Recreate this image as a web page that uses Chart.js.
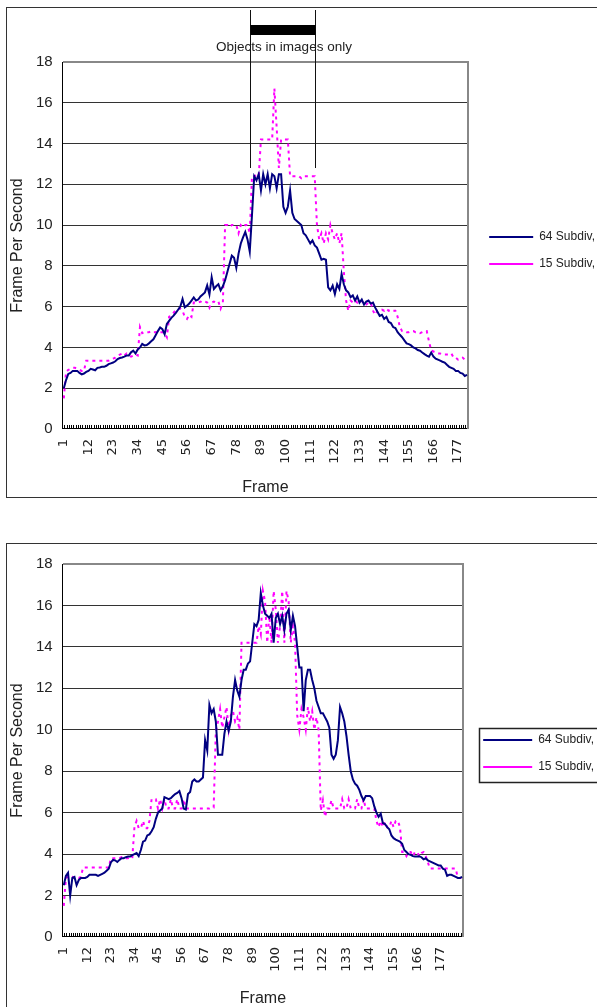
<!DOCTYPE html>
<html>
<head>
<meta charset="utf-8">
<script src="https://cdn.jsdelivr.net/npm/chart.js@4.4.1/dist/chart.umd.min.js"></script>
<style>
  html, body { margin: 0; padding: 0; background: #fff; overflow: hidden; width: 597px; height: 1007px; }
  .box { position: absolute; left: 6px; border: 1px solid #333; background: #fff; }
  #box1 { top: 7px; width: 598px; height: 489px; }
  #box2 { top: 543px; width: 597px; height: 470px; }
  canvas { display: block; }
</style>
</head>
<body>
<div class="box" id="box1"><canvas id="c1" width="598" height="489"></canvas></div>
<div class="box" id="box2"><canvas id="c2" width="597" height="470"></canvas></div>
<script>
// frame numbers on the category axis
const framesTop = Array.from({ length: 181 }, (_, i) => String(i + 1));
const framesBottom = Array.from({ length: 187 }, (_, i) => String(i + 1));
const seriesNames = ['64 Subdiv,', '15 Subdiv,'];
const labelEvery = 11;
const yMin = 0, yMax = 18, yStep = 2;

// upper chart
const top64 = [
  2.0, 2.4, 2.7, 2.75, 2.85, 2.85, 2.85, 2.75, 2.68, 2.72,
  2.8, 2.85, 2.95, 2.92, 2.88, 3.0, 3.02, 3.05, 3.05, 3.1,
  3.18, 3.22, 3.26, 3.32, 3.43, 3.48, 3.51, 3.55, 3.6, 3.6,
  3.76, 3.84, 3.7, 3.9, 4.0, 4.17, 4.1, 4.12, 4.2, 4.3,
  4.4, 4.6, 4.8, 4.98, 4.9, 4.65, 5.15, 5.3, 5.45, 5.56,
  5.7, 5.85, 6.0, 6.38, 5.97, 6.05, 6.15, 6.3, 6.45, 6.3,
  6.35, 6.5, 6.6, 6.7, 7.04, 6.6, 7.44, 6.87, 7.0, 7.1,
  6.8, 7.0, 7.3, 7.7, 8.1, 8.5, 8.4, 7.9, 8.6, 9.1,
  9.4, 9.66, 9.3, 8.7, 10.5, 12.4, 12.2, 12.5, 11.7, 12.5,
  12.0, 12.5, 11.8, 12.5, 12.4, 11.8, 12.5, 12.5, 10.9, 10.6,
  10.9, 11.7, 10.6, 10.3, 10.2, 10.1, 10.0, 9.6, 9.5, 9.3,
  9.1, 9.25, 9.0, 8.9, 8.6, 8.3, 8.35, 8.3, 6.95, 6.8,
  7.03, 6.62, 7.1, 6.87, 7.6, 7.1, 6.8, 6.7, 6.46, 6.55,
  6.3, 6.5, 6.2, 6.35, 6.1, 6.25, 6.3, 6.15, 6.2, 5.95,
  5.75, 5.55, 5.6, 5.4, 5.5, 5.25, 5.2, 5.0, 4.95, 4.75,
  4.62, 4.5, 4.35, 4.2, 4.16, 4.1, 4.0, 3.95, 3.87, 3.84,
  3.75, 3.67, 3.6, 3.55, 3.75, 3.55, 3.45, 3.4, 3.35, 3.3,
  3.26, 3.15, 3.05, 3.0, 2.95, 2.85, 2.85, 2.75, 2.72, 2.6,
  2.65
];
const top15 = [
  1.5, 2.8, 2.9, 2.95, 3.0, 3.0, 2.95, 2.9, 2.85, 2.85,
  3.35, 3.35, 3.35, 3.35, 3.35, 3.35, 3.35, 3.35, 3.35, 3.35,
  3.35, 3.4, 3.45, 3.5, 3.6, 3.65, 3.7, 3.6, 3.7, 3.6,
  3.55, 3.6, 3.65, 3.6, 5.0, 4.7, 4.75, 4.75, 4.75, 4.8,
  4.75, 4.75, 4.8, 4.75, 4.75, 4.7, 4.5, 5.5, 5.6, 5.7,
  5.85, 5.9, 5.9, 5.8, 5.5, 5.4, 5.6, 5.5, 6.2, 6.2,
  6.2, 6.25, 6.2, 6.25, 6.2, 5.95, 6.2, 6.25, 6.2, 6.25,
  5.9, 6.2, 10.0, 10.0, 9.9, 10.0, 10.0, 10.0, 9.6, 10.0,
  9.9, 10.0, 10.0, 9.6, 12.4, 12.4, 12.45, 12.4, 14.2, 14.2,
  14.2, 14.2, 14.2, 14.2, 16.7, 14.8, 12.8, 14.2, 14.2, 14.2,
  14.2, 12.4, 12.4, 12.4, 12.4, 12.4, 12.3, 12.4, 12.4, 12.4,
  12.4, 12.4, 12.4, 10.0, 9.3, 9.6, 9.1, 9.6, 9.3, 10.0,
  9.6, 9.3, 9.6, 9.1, 9.6, 7.7, 6.3, 5.8, 6.3, 6.2,
  6.3, 6.2, 6.3, 6.3, 6.1, 6.1, 6.2, 6.2, 5.8, 5.6,
  5.8, 5.8, 5.85, 5.8, 5.9, 5.8, 5.85, 5.8, 5.8, 5.5,
  5.0, 4.8, 4.8, 4.75, 4.75, 4.8, 4.8, 4.75, 4.75, 4.7,
  4.75, 4.8, 4.8, 4.3, 3.85, 3.8, 3.75, 3.7, 3.7, 3.65,
  3.65, 3.65, 3.65, 3.7, 3.5, 3.5, 3.4, 3.45, 3.5, 3.4,
  3.4
];
// "Objects in images only" spans these frames
const objectsFrom = '84', objectsTo = '113', objectsLineBottom = 12.8;
const objectsText = 'Objects in images only';

// lower chart
const bottom64 = [
  2.5, 2.95, 3.1, 2.0, 2.85, 2.9, 2.5, 2.75, 2.85, 2.85,
  2.85, 2.9, 3.0, 3.0, 3.0, 3.0, 2.95, 3.0, 3.05, 3.1,
  3.2, 3.3, 3.6, 3.72, 3.7, 3.62, 3.72, 3.8, 3.8, 3.85,
  3.88, 3.88, 3.95, 4.0, 4.05, 3.9, 4.2, 4.6, 4.65, 4.9,
  4.95, 5.1, 5.3, 5.7, 6.0, 6.1, 6.2, 6.75, 6.7, 6.65,
  6.7, 6.8, 6.9, 6.95, 7.04, 6.7, 6.2, 6.15, 6.9, 7.0,
  7.5, 7.6, 7.5, 7.5, 7.6, 7.7, 9.5, 9.0, 11.2, 10.8,
  11.0, 10.4, 8.8, 8.8, 8.8, 9.8, 10.4, 9.95, 10.4, 11.6,
  12.4, 11.9, 11.6, 12.4, 12.9, 12.9, 13.2, 13.3, 14.2, 15.1,
  15.0, 15.3, 16.6, 16.0, 15.6, 15.5, 15.4, 15.6, 14.2, 15.4,
  15.6, 15.1, 15.5, 14.8, 15.6, 15.8, 14.8, 15.5, 15.0, 14.0,
  13.0, 13.0, 10.9, 12.4, 12.9, 12.9, 12.4, 12.0, 11.4, 11.1,
  10.8, 10.8, 10.6, 10.4, 10.1, 8.8, 8.6, 8.8, 9.5, 11.1,
  10.8, 10.4, 9.7, 8.8, 8.0, 7.6, 7.4, 7.3, 7.1, 6.8,
  6.6, 6.8, 6.8, 6.8, 6.7, 6.3, 6.0, 5.8, 5.95, 5.5,
  5.45, 5.3, 5.2, 4.9, 4.77, 4.7, 4.65, 4.6, 4.5, 4.2,
  4.1, 4.0, 3.96, 3.9, 3.88, 3.88, 3.9, 3.85, 3.75, 3.8,
  3.7, 3.65, 3.6, 3.55, 3.5, 3.45, 3.45, 3.3, 3.25, 2.95,
  3.0, 3.0, 2.95, 2.9, 2.85, 2.85, 2.9
];
const bottom15 = [
  1.5, 2.85, 2.9, 2.85, 2.9, 2.85, 2.9, 2.85, 2.9, 3.35,
  3.35, 3.35, 3.35, 3.35, 3.35, 3.35, 3.35, 3.35, 3.35, 3.35,
  3.35, 3.35, 3.8, 3.8, 3.8, 3.8, 3.8, 3.85, 3.8, 3.8,
  3.8, 3.85, 3.8, 5.3, 5.6, 5.25, 5.25, 5.6, 5.25, 5.25,
  5.6, 6.65, 6.65, 6.65, 6.2, 6.65, 6.2, 6.65, 6.2, 6.2,
  6.65, 6.2, 6.2, 6.65, 6.2, 6.2, 6.65, 6.2, 6.2, 6.2,
  6.2, 6.2, 6.2, 6.2, 6.2, 6.2, 6.2, 6.2, 6.2, 6.25,
  6.25, 9.9, 10.4, 11.0, 10.1, 10.6, 11.1, 10.0, 10.7, 10.9,
  10.4, 10.6, 10.0, 14.2, 14.2, 14.2, 14.2, 14.2, 14.2, 14.2,
  14.2, 15.0, 14.6, 16.7, 16.2, 14.2, 15.5, 14.2, 16.7, 15.8,
  14.2, 15.0, 16.7, 14.2, 16.7, 16.2, 14.2, 15.0, 14.2, 10.7,
  10.0, 11.0, 10.6, 10.0, 11.1, 10.4, 10.9, 10.0, 10.6, 10.0,
  6.1, 6.6, 5.8, 6.2, 6.2, 6.6, 6.2, 6.2, 6.2, 6.2,
  6.65, 6.2, 6.2, 6.65, 6.2, 6.2, 6.2, 6.65, 6.2, 6.2,
  6.65, 6.2, 6.2, 6.2, 6.2, 6.2, 5.6, 5.3, 5.6, 5.3,
  5.55, 5.3, 5.3, 5.6, 5.3, 5.6, 5.6, 5.3, 4.1, 4.1,
  3.9, 4.1, 4.1, 3.9, 4.1, 4.1, 3.9, 4.05, 4.1, 3.9,
  3.6, 3.3, 3.3, 3.3, 3.3, 3.3, 3.3, 3.3, 3.3, 3.3,
  3.3, 3.3, 3.3, 3.3, 2.85, 2.85, 2.85
];

const sans = "'Liberation Sans', Arial, sans-serif";
const textColor = '#222';

// plot frame, legend box and the bracket over the top chart
const decorations = {
  id: 'decorations',
  afterDraw(chart, args, opts) {
    const ctx = chart.ctx;
    ctx.save();
    if (opts.legendBox) {
      const hb = chart.legend.legendHitBoxes;
      const l = Math.round(hb[0].left - 4);
      const t = Math.round(hb[0].top - 6);
      const b = Math.round(hb[hb.length - 1].top + hb[hb.length - 1].height + 9);
      ctx.strokeStyle = '#222';
      ctx.lineWidth = 1.5;
      ctx.strokeRect(l + 0.5, t + 0.5, chart.width, b - t);
    }
    if (opts.span) {
      const x = chart.scales.x, y = chart.scales.y;
      const x1 = Math.round(x.getPixelForValue(framesTop.indexOf(opts.span[0]))) + 0.5;
      const x2 = Math.round(x.getPixelForValue(framesTop.indexOf(opts.span[1]))) + 0.5;
      const yb = y.getPixelForValue(opts.span[2]);
      ctx.strokeStyle = '#111';
      ctx.lineWidth = 1;
      ctx.beginPath();
      ctx.moveTo(x1, 2); ctx.lineTo(x1, yb);
      ctx.moveTo(x2, 2); ctx.lineTo(x2, yb);
      ctx.stroke();
      ctx.fillStyle = '#000';
      ctx.fillRect(x1, 17, x2 - x1, 10);
      ctx.font = '13.5px ' + sans;
      ctx.fillStyle = textColor;
      ctx.textAlign = 'center';
      ctx.textBaseline = 'middle';
      ctx.fillText(opts.span[3], (x1 + x2) / 2 + 1, 39);
    }
    ctx.restore();
  }
};

function makeChart(id, frames, s64, s15, o) {
  return new Chart(document.getElementById(id), {
    type: 'line',
    data: {
      labels: frames,
      datasets: [
        { label: seriesNames[0], data: s64, borderColor: '#000080', borderWidth: 2, pointRadius: 0, tension: 0 },
        { label: seriesNames[1], data: s15, borderColor: '#ff00ff', borderWidth: 2, borderDash: [3, 4], pointRadius: 0, tension: 0 }
      ]
    },
    options: {
      responsive: false,
      animation: false,
      events: [],
      layout: { padding: o.padding },
      plugins: {
        legend: {
          position: 'right',
          fullSize: false,
          maxWidth: 220,
          // an empty title only nudges the two entries down a little
          title: { display: true, text: ' ', padding: 0, font: { size: o.legendShift, lineHeight: 1 } },
          labels: {
            usePointStyle: true,
            pointStyle: 'line',
            pointStyleWidth: o.legendLine,
            padding: 15,
            color: textColor,
            font: { family: sans, size: 12 }
          }
        },
        tooltip: { enabled: false },
        decorations: { legendBox: o.legendBox, span: o.span }
      },
      scales: {
        x: {
          type: 'category',
          offset: true,
          grid: { drawOnChartArea: false, drawTicks: true, tickLength: -4, color: '#000', offset: true },
          border: { color: '#000', width: 1 },
          ticks: {
            autoSkip: false, minRotation: 90, maxRotation: 90, padding: o.xTickPad,
            color: textColor, font: { family: 'DejaVu Sans', size: 13 },
            callback(v, i) { return i % labelEvery === 0 ? this.getLabelForValue(v) : ''; }
          },
          title: { display: true, text: 'Frame', color: textColor, font: { family: sans, size: 16 }, padding: { top: o.xTitlePad, bottom: 0 } }
        },
        y: {
          min: yMin, max: yMax,
          ticks: { stepSize: yStep, padding: 10, color: textColor, font: { family: sans, size: 15 } },
          grid: { drawTicks: false, color: (c) => c.tick && c.tick.value === yMax ? '#888' : '#333', lineWidth: (c) => c.tick && c.tick.value === yMax ? 2 : 1 },
          border: { color: '#000', width: 1 },
          title: { display: true, text: 'Frame Per Second', color: textColor, font: { family: sans, size: 16, lineHeight: 1 }, padding: { top: 3, bottom: 0 } }
        },
        y2: {
          position: 'right',
          ticks: { display: false },
          grid: { display: false, drawTicks: false },
          border: { display: true, color: '#888', width: 2 },
          afterFit(s) { s.width = o.gap; }
        }
      }
    },
    plugins: [decorations]
  });
}

makeChart('c1', framesTop, top64, top15, {
  padding: { top: 54, left: 0, right: 0, bottom: 0 },
  legendLine: 44, legendBox: false, legendShift: 10, gap: 6, xTickPad: 14, xTitlePad: 0,
  span: [objectsFrom, objectsTo, objectsLineBottom, objectsText]
});
makeChart('c2', framesBottom, bottom64, bottom15, {
  padding: { top: 20, left: 0, right: 0, bottom: 6 },
  legendLine: 49, legendBox: true, legendShift: 6, gap: 5, xTickPad: 14, xTitlePad: 3,
  span: null
});
</script>
</body>
</html>
